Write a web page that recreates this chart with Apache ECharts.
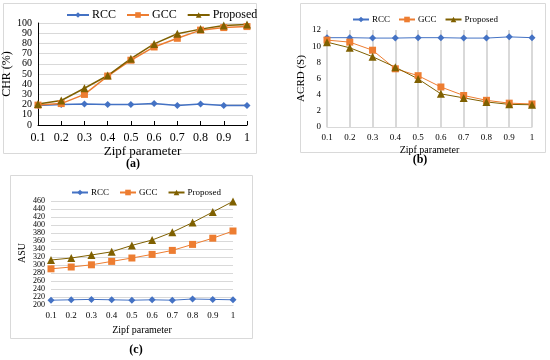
<!DOCTYPE html>
<html><head><meta charset="utf-8">
<script src="https://cdn.jsdelivr.net/npm/echarts@6/dist/echarts.min.js"></script>
<style>html,body{margin:0;padding:0;background:#fff}#c{width:550px;height:360px}</style>
</head><body><div id="c"></div>
<script>
const categories = ["0.1","0.2","0.3","0.4","0.5","0.6","0.7","0.8","0.9","1"];
const seriesNames = ["RCC","GCC","Proposed"];
// (a) CHR (%)
const chrRCC = [19, 20, 20.5, 20, 20, 21, 19, 20.5, 19, 19];
const chrGCC = [19.5, 21, 30, 48, 63.5, 76.5, 85, 93, 95.5, 96.5];
const chrProposed = [20.5, 24, 36, 48.5, 65, 79.5, 89.5, 94, 97.5, 98.5];
// (b) ACRD (S)
const acrdRCC = [11.05, 11.05, 11.0, 11.0, 11.05, 11.05, 11.0, 11.0, 11.15, 11.05];
const acrdGCC = [10.75, 10.5, 9.5, 7.2, 6.35, 4.95, 3.9, 3.3, 2.95, 2.85];
const acrdProposed = [10.5, 9.8, 8.7, 7.4, 5.95, 4.1, 3.6, 3.1, 2.8, 2.75];
// (c) ASU
const asuRCC = [212, 213, 214, 213, 212, 213, 212, 215, 214, 213];
const asuGCC = [290.5, 295, 300.5, 309, 317.5, 326.5, 336.5, 351.5, 367, 385];
const asuProposed = [312.5, 317.5, 325, 333, 349, 362.5, 382, 406, 432.5, 459];
const captions = ["(a)","(b)","(c)"];

const colors = ["#4472C4","#ED7D31","#7F6000"];
const symbols = ["diamond","rect","triangle"];
const symSizes = [7,7,8];
const FONT = "Liberation Serif";

function mk(name, data, idx, gi, lw) {
  return {
    name: name, type: "line", xAxisIndex: gi, yAxisIndex: gi, data: data,
    symbol: symbols[idx], symbolSize: symSizes[idx],
    itemStyle: {color: colors[idx]}, lineStyle: {color: colors[idx], width: lw},
    animation: false
  };
}
const chart = echarts.init(document.getElementById("c"));
const grids = [
  {left: 38, right: 303, top: 23, bottom: 235, outerBoundsMode: "none"},
  {left: 327, right: 18, top: 30, bottom: 233, outerBoundsMode: "none"},
  {left: 51, right: 317, top: 201, bottom: 55, outerBoundsMode: "none"}
];
function xAxis(gi, fs, nameGap, showTick, axisColor, vgrid, margin) {
  return {
    type: "category", gridIndex: gi, data: categories, boundaryGap: false,
    name: "Zipf parameter", nameLocation: "middle", nameGap: nameGap,
    nameTextStyle: {fontFamily: FONT, fontSize: fs + 1, color: "#000"},
    axisLine: {lineStyle: {color: axisColor}},
    axisTick: {show: showTick, alignWithLabel: true, length: 4, inside: true, lineStyle: {color: axisColor}},
    axisLabel: {fontFamily: FONT, fontSize: fs, color: "#000", margin: margin, interval: 0, hideOverlap: false, showMinLabel: true, showMaxLabel: true},
    splitLine: {show: vgrid, interval: 0, lineStyle: {color: "#d9d9d9", width: 2}}
  };
}
function yAxis(gi, min, max, interval, name, fs, nameGap, showLine, hgrid) {
  return {
    type: "value", gridIndex: gi, min: min, max: max, interval: interval,
    name: name, nameLocation: "middle", nameGap: nameGap,
    nameTextStyle: {fontFamily: FONT, fontSize: fs + 2, color: "#000"},
    axisLine: {show: showLine, lineStyle: {color: "#000"}},
    axisTick: {show: false},
    axisLabel: {fontFamily: FONT, fontSize: fs, color: "#000", margin: 6, hideOverlap: false, showMinLabel: true, showMaxLabel: true},
    splitLine: {show: hgrid, lineStyle: {color: "#d9d9d9"}}
  };
}
function legend(left, top, fs, iw, gap) {
  return {
    data: seriesNames.map(n => ({name: n})), left: left, top: top, width: 300,
    itemWidth: iw, itemHeight: 7, itemGap: gap,
    textStyle: {fontFamily: FONT, fontSize: fs, color: "#000", padding: [0, 0, 0, -2]},
    selectedMode: false
  };
}
function box(x1, y1, x2, y2) {
  return {type: "rect", shape: {x: x1 + 0.5, y: y1 + 0.5, width: x2 - x1, height: y2 - y1},
    style: {fill: null, stroke: "#d9d9d9", lineWidth: 1}, silent: true};
}
function cap(t, x, y) {
  return {type: "text", x: x, y: y, style: {text: t, fontFamily: FONT, fontSize: 12, fontWeight: "bold", fill: "#000", align: "center", verticalAlign: "middle"}};
}
const series = [
  mk(seriesNames[0], chrRCC, 0, 0, 1.5), mk(seriesNames[1], chrGCC, 1, 0, 1.5), mk(seriesNames[2], chrProposed, 2, 0, 1.5),
  mk(seriesNames[0], acrdRCC, 0, 1, 1), mk(seriesNames[1], acrdGCC, 1, 1, 1), mk(seriesNames[2], acrdProposed, 2, 1, 1),
  mk(seriesNames[0], asuRCC, 0, 2, 1), mk(seriesNames[1], asuGCC, 1, 2, 1), mk(seriesNames[2], asuProposed, 2, 2, 1)
];
chart.setOption({
  animation: false,
  grid: grids,
  xAxis: [xAxis(0, 12, 17, true, "#000", false, 7), xAxis(1, 9, 18, false, "#d9d9d9", true, 6), xAxis(2, 9, 20, false, "#d9d9d9", false, 6)],
  yAxis: [yAxis(0, 0, 100, 10, "CHR (%)", 10, 22, true, true), yAxis(1, 0, 12, 2, "ACRD (S)", 9, 20, false, false), yAxis(2, 200, 460, 20, "ASU", 8, 24, false, true)],
  legend: [
    legend(61, 4, 12, 22, 10),
    legend(347, 10, 9, 16, 8),
    legend(66, 183, 9, 16, 10)
  ],
  series: series,
  graphic: [
    box(3, 3, 256, 153), box(300, 3, 545, 152), box(10, 175, 252, 338),
    cap(captions[0], 133, 164), cap(captions[1], 420, 160), cap(captions[2], 136, 350)
  ]
});
</script></body></html>
